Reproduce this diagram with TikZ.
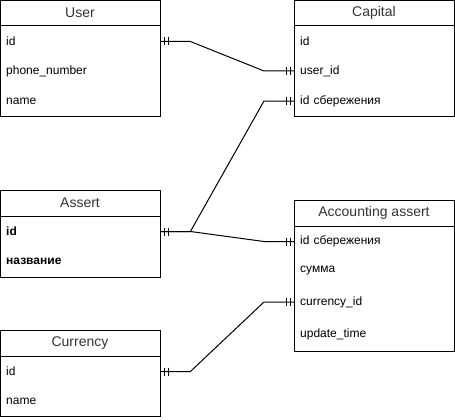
\documentclass[tikz,border=0pt]{standalone}
\usepackage{fontspec}
\setmainfont{Liberation Sans}
\usetikzlibrary{calc}
\begin{document}
\begin{tikzpicture}[x=1pt,y=-1pt,
  box/.style={draw, line width=1pt},
  hdr/.style={font=\fontsize{14}{16}\selectfont, inner sep=0pt, text=black!80},
  row/.style={anchor=west, text width=148pt, inner xsep=6pt, inner ysep=0pt, minimum height=20pt, align=left, font=\fontsize{12}{14}\selectfont},
  brow/.style={row, font=\fontsize{12}{14}\selectfont\bfseries},
  conn/.style={draw, line width=1pt},
  bars/.pic={\draw[line width=1pt] (0,-4) -- (0,4) (4,-4) -- (4,4);}
]
\useasboundingbox (0,0) rectangle (455,420);

% User
\draw[box] (0.5,0.5) rectangle (160,116);
\draw[box] (0.5,26) -- (160,26);
\node[hdr] (user) at (80,13) {User};
\node[row] (user-id) at (0,41.5) {id};
\node[row] (user-phone) at (0,71) {phone\_number};
\node[row] (user-name) at (0,101) {name};

% Capital
\draw[box] (294,0.5) rectangle (454,116);
\draw[box] (294,26) -- (454,26);
\node[hdr] (cap) at (374,13) {Capital};
\node[row] (cap-id) at (294,41.5) {id};
\node[row] (cap-uid) at (294,71) {user\_id};
\node[row] (cap-sav) at (294,101) {id сбережения};

% Assert
\draw[box] (0.5,190) rectangle (160,277);
\draw[box] (0.5,216) -- (160,216);
\node[hdr] (asr) at (80,203) {Assert};
\node[brow] (asr-id) at (0,231.5) {id};
\node[brow] (asr-name) at (0,261) {название};

% Accounting assert
\draw[box] (294,200) rectangle (454,351);
\draw[box] (294,226) -- (454,226);
\node[hdr] (acc) at (374,213) {Accounting assert};
\node[row] (acc-sav) at (294,241.5) {id сбережения};
\node[row] (acc-sum) at (294,271) {сумма};
\node[row] (acc-cur) at (294,302) {currency\_id};
\node[row] (acc-time) at (294,334) {update\_time};

% Currency
\draw[box] (0.5,330) rectangle (160,416);
\draw[box] (0.5,356) -- (160,356);
\node[hdr] (cur) at (80,343) {Currency};
\node[row] (cur-id) at (0,371.5) {id};
\node[row] (cur-name) at (0,401) {name};

% connectors
\draw[conn] (user-id.east) -- ++(30,0) -- ($(cap-uid.west)+(-30,0)$) -- (cap-uid.west);
\draw[conn] (asr-id.east) -- ++(30,0) -- ($(cap-sav.west)+(-30,0)$) -- (cap-sav.west);
\draw[conn] (asr-id.east) -- ++(30,0) -- ($(acc-sav.west)+(-30,0)$) -- (acc-sav.west);
\draw[conn] (cur-id.east) -- ++(30,0) -- ($(acc-cur.west)+(-30,0)$) -- (acc-cur.west);

% crow's foot bars
\pic at ([xshift=4pt]user-id.east) {bars};
\pic at ([xshift=4pt]asr-id.east) {bars};
\pic at ([xshift=4pt]cur-id.east) {bars};
\pic at ([xshift=-8pt]cap-uid.west) {bars};
\pic at ([xshift=-8pt]cap-sav.west) {bars};
\pic at ([xshift=-8pt]acc-sav.west) {bars};
\pic at ([xshift=-8pt]acc-cur.west) {bars};
\end{tikzpicture}
\end{document}
